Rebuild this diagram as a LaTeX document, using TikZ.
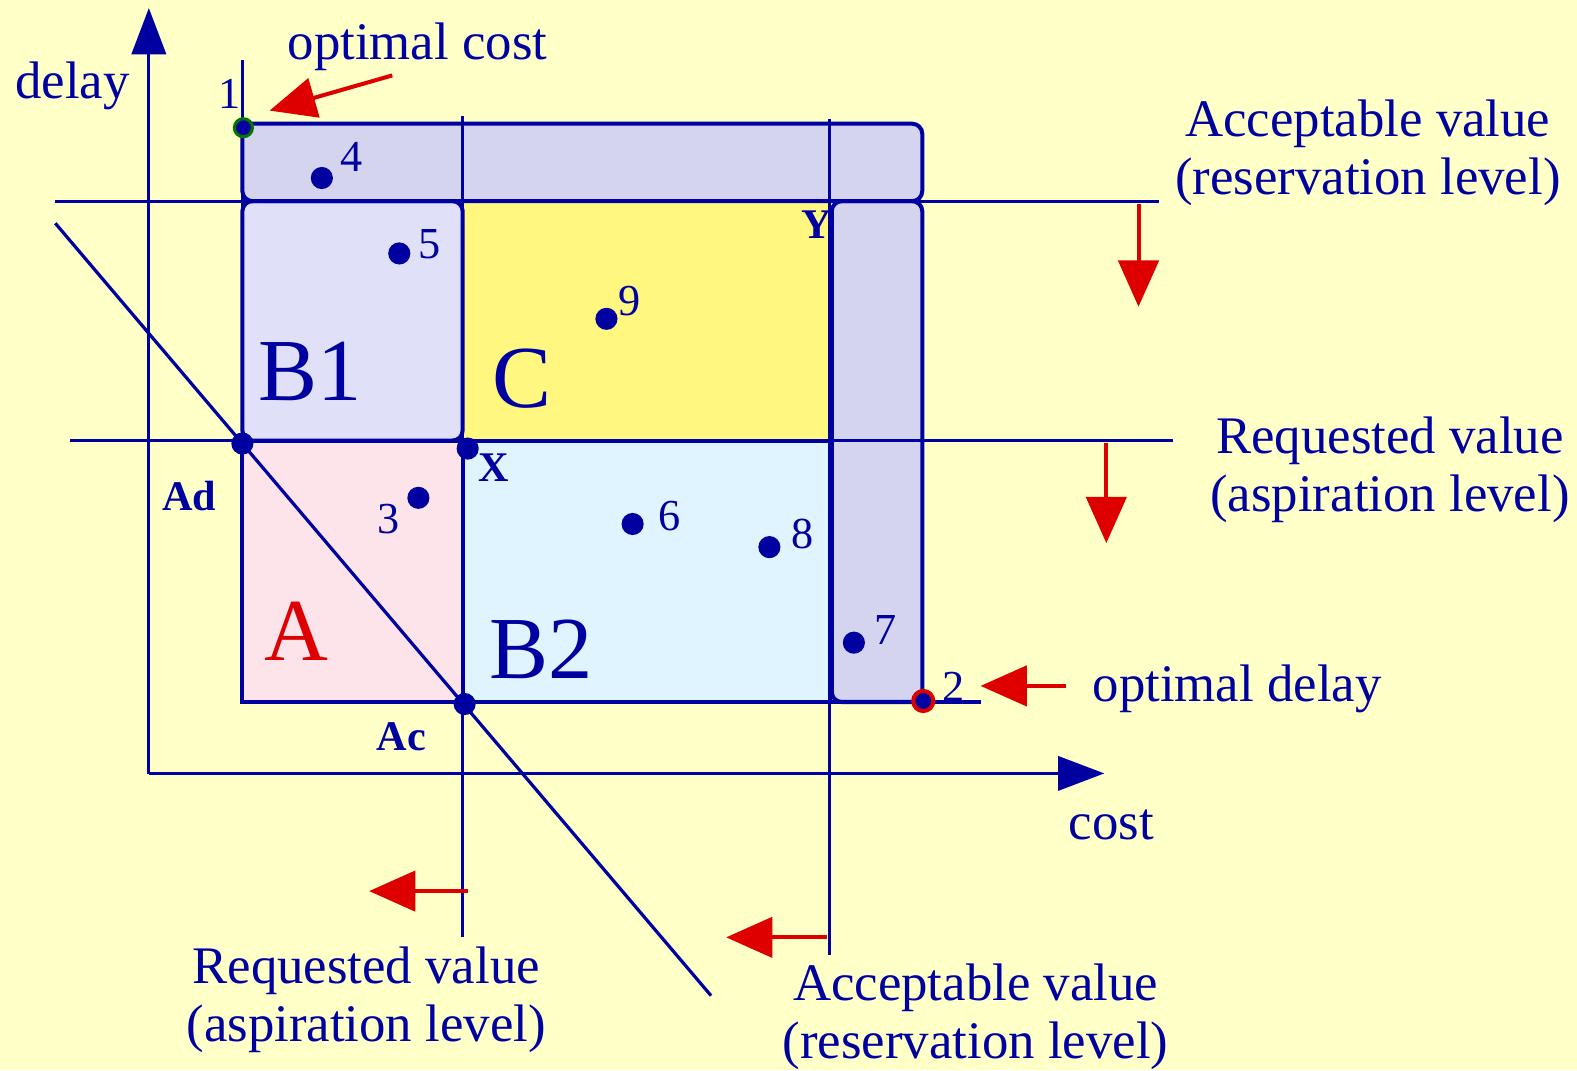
\documentclass[tikz,border=0pt]{standalone}
\usepackage{fontspec}
\setmainfont{Liberation Serif}
\usetikzlibrary{arrows.meta}
\definecolor{bg}{RGB}{255,255,200}
\definecolor{navy}{RGB}{0,0,160}
\definecolor{rd}{RGB}{222,0,0}
\definecolor{cyel}{RGB}{255,247,128}
\definecolor{clav}{RGB}{224,224,248}
\definecolor{cpink}{RGB}{252,228,234}
\definecolor{ccyan}{RGB}{224,244,255}
\definecolor{chatch}{RGB}{212,212,238}
\definecolor{dgreen}{RGB}{0,120,0}
\begin{document}
\begin{tikzpicture}[x=1pt,y=-1pt,
 ln/.style={navy,line width=3.2pt},
 boxline/.style={navy,line width=4pt,rounded corners=10pt},
 dot/.style={circle,fill=navy,inner sep=0pt,minimum size=22pt},
 txt/.style={text=navy,font=\fontsize{52.5}{57}\selectfont,align=center,inner sep=0pt},
 num/.style={text=navy,font=\fontsize{44}{50}\selectfont,inner sep=0pt},
 boldlab/.style={text=navy,font=\fontsize{42}{48}\selectfont\bfseries,inner sep=0pt},
 big/.style={font=\fontsize{88}{90}\selectfont,inner sep=0pt},
 redarr/.style={rd,line width=4pt,-{Triangle[length=46pt,width=40pt]}},
 axis/.style={navy,line width=3.2pt,-{Triangle[length=46pt,width=34pt]}},
]
\fill[bg] (0,0) rectangle (1568,1064);
\useasboundingbox (0,0) rectangle (1568,1064);

% region fills
\fill[chatch,rounded corners=10pt] (241,123) rectangle (917,200);
\fill[chatch,rounded corners=10pt] (827,200) rectangle (917,698);
\fill[clav,rounded corners=10pt] (241,200) rectangle (460,438);
\fill[cyel] (460,200) rectangle (825,438);
\fill[cpink] (241,438) rectangle (460,698);
\fill[ccyan] (460,438) rectangle (825,698);

% region borders
\draw[boxline] (241,123) rectangle (917,200);
\draw[boxline] (827,200) rectangle (917,698);
\draw[boxline] (241,200) rectangle (460,438);
\draw[navy,line width=4pt] (241,438) -- (241,698) -- (460,698) -- (460,438) -- cycle;
\draw[navy,line width=4pt] (460,698) -- (825,698) -- (825,438) -- (460,438);

% coordinates
\coordinate (yb) at (148,770);
\coordinate (yt) at (148,8);
\coordinate (xe) at (1098,769);
\coordinate (h1a) at (55,200);
\coordinate (h1b) at (1152,200);
\coordinate (h2a) at (70,438);
\coordinate (h2b) at (1166,438);
\coordinate (v1a) at (460,115);
\coordinate (v1b) at (460,932);
\coordinate (v2a) at (825,118);
\coordinate (v2b) at (825,950);
\coordinate (v0a) at (241,60);
\coordinate (v0b) at (241,698);
\coordinate (bl) at (975,698);
\coordinate (da) at (55,222);
\coordinate (db) at (707,990);

% lines
\draw[axis] (yb) -- (yt);
\draw[axis] (148,769) -- (xe);
\draw[ln] (h1a) -- (h1b);
\draw[ln] (h2a) -- (h2b);
\draw[ln] (v1a) -- (v1b);
\draw[ln] (v2a) -- (v2b);
\draw[ln] (v0a) -- (v0b);
\draw[ln] (v0b) -- (bl);
\draw[ln] (da) -- (db);

% red arrows
\coordinate (r1s) at (390,75);   \coordinate (r1e) at (268,110);
\coordinate (r2s) at (1132,203); \coordinate (r2e) at (1132,305);
\coordinate (r3s) at (1100,440); \coordinate (r3e) at (1100,540);
\coordinate (r4s) at (1060,682); \coordinate (r4e) at (975,682);
\coordinate (r5s) at (465,886);  \coordinate (r5e) at (367,886);
\coordinate (r6s) at (822,932);  \coordinate (r6e) at (722,932);
\draw[redarr] (r1s) -- (r1e);
\draw[redarr] (r2s) -- (r2e);
\draw[redarr] (r3s) -- (r3e);
\draw[redarr] (r4s) -- (r4e);
\draw[redarr] (r5s) -- (r5e);
\draw[redarr] (r6s) -- (r6e);

% dots
\node[dot] (p4) at (320,177) {};
\node[dot] (p5) at (397,252) {};
\node[dot] (p9) at (603,317) {};
\node[dot] (p3) at (416,495) {};
\node[dot] (p6) at (629,521) {};
\node[dot] (p8) at (765,544) {};
\node[dot] (p7) at (849,639) {};
\node[dot] (pAd) at (241,441) {};
\node[dot] (pX) at (465,446) {};
\node[dot] (pAc) at (462,700) {};
\node[dot,minimum size=18pt,draw=dgreen,line width=3pt] (p1) at (242,127) {};
\node[dot,minimum size=20pt,draw=rd,line width=4pt] (p2) at (918,697) {};

% digit labels
\node[num] (l1) at (228,93) {1};
\node[num] (l2) at (948,683) {2};
\node[num] (l3) at (386,516) {3};
\node[num] (l4) at (350,156) {4};
\node[num] (l5) at (427,243) {5};
\node[num] (l6) at (666,513) {6};
\node[num] (l7) at (880,626) {7};
\node[num] (l8) at (798,531) {8};
\node[num] (l9) at (626,299) {9};

% bold labels
\node[boldlab] (lAd) at (188,493) {Ad};
\node[boldlab] (lX) at (491,465) {X};
\node[boldlab] (lY) at (812,223) {Y};
\node[boldlab] (lAc) at (399,733) {Ac};

% big region labels
\node[big,text=navy] (B1) at (308,369) {B1};
\node[big,text=navy] (C) at (519,376) {C};
\node[big,text=rd] (A) at (295,628) {A};
\node[big,text=navy] (B2) at (538,646) {B2};

% texts
\node[txt] (delay) at (72,85) {delay};
\node[txt] (optc) at (415,47) {optimal cost};
\node[txt] (accR) at (1360,152) {Acceptable value\\(reservation level)};
\node[txt] (reqR) at (1382,467) {Requested value\\(aspiration level)};
\node[txt] (optd) at (1230,685) {optimal delay};
\node[txt] (cost) at (1105,820) {cost};
\node[txt] (reqB) at (364,994) {Requested value\\(aspiration level)};
\node[txt] (accB) at (970,1011) {Acceptable value\\(reservation level)};
\end{tikzpicture}
\end{document}
